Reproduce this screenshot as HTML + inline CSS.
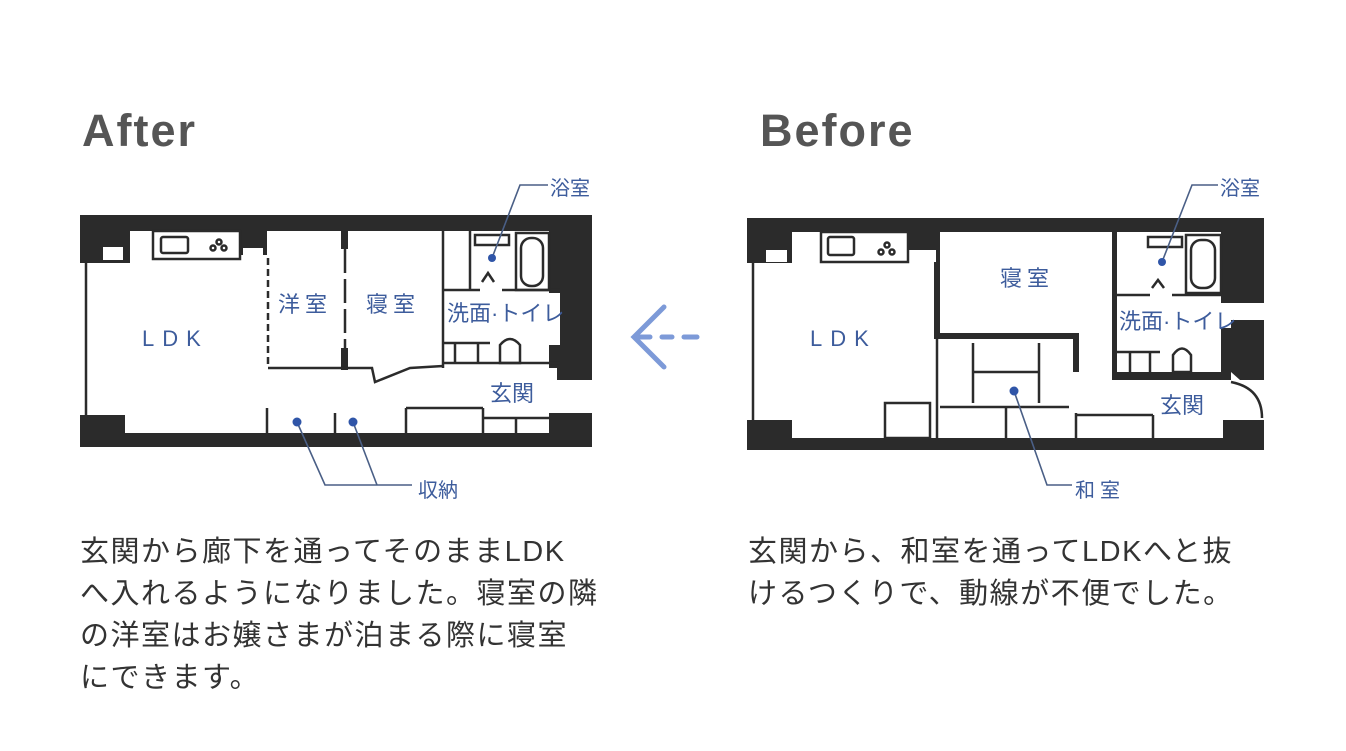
<!DOCTYPE html>
<html><head><meta charset="utf-8"><style>
body{margin:0;background:#fff;width:1346px;height:751px;overflow:hidden;position:relative;font-family:"Liberation Sans","Noto Sans CJK JP",sans-serif}
.t{position:absolute;font-weight:bold;color:#555;font-size:45px;letter-spacing:2px}
.p{position:absolute;font-size:29px;line-height:42px;color:#333;letter-spacing:1.5px;white-space:nowrap}
svg{position:absolute;left:0;top:0}
text{font-family:"Liberation Sans","Noto Sans CJK JP",sans-serif;fill:#3d5c9c}
</style></head><body>
<div class="t" style="left:82px;top:105px">After</div>
<div class="t" style="left:760px;top:105px">Before</div>
<div class="p" style="left:80px;top:531px">玄関から廊下を通ってそのままLDK<br>へ入れるようになりました。寝室の隣<br>の洋室はお嬢さまが泊まる際に寝室<br>にできます。</div>
<div class="p" style="left:748px;top:531px">玄関から、和室を通ってLDKへと抜<br>けるつくりで、動線が不便でした。</div>
<svg width="1346" height="751" viewBox="0 0 1346 751">
<g fill="#2b2b2b" stroke="none">
<rect x="80" y="215" width="512" height="16"/>
<rect x="80" y="215" width="50" height="48"/>
<rect x="240" y="215" width="27" height="40"/>
<rect x="549" y="215" width="43" height="78"/>
<rect x="560" y="293" width="32" height="60"/>
<polygon points="549,345 560,345 560,330 592,330 592,380 557,380 557,368 549,368"/>
<rect x="80" y="433" width="512" height="14"/>
<rect x="80" y="415" width="45" height="32"/>
<rect x="549" y="413" width="43" height="34"/>
<rect x="341" y="231" width="7" height="18"/>
<rect x="341" y="348" width="7" height="22"/>
<rect x="747" y="218" width="517" height="14"/>
<rect x="747" y="218" width="45" height="45"/>
<rect x="908" y="218" width="31" height="32"/>
<rect x="1221" y="218" width="43" height="85"/>
<polygon points="1221,328 1231,328 1231,320 1264,320 1264,380 1240,380 1231,372 1221,372"/>
<rect x="747" y="438" width="517" height="12"/>
<rect x="747" y="420" width="45" height="30"/>
<rect x="1223" y="420" width="41" height="30"/>
<rect x="934" y="232" width="6" height="105"/>
<rect x="934" y="333" width="145" height="6"/>
<rect x="1073" y="333" width="6" height="39"/>
<rect x="1112" y="372" width="119" height="8"/>
<rect x="1112" y="232" width="5" height="148"/>
</g>
<g fill="#fff"><rect x="103" y="247" width="20" height="13"/><rect x="243" y="248" width="20" height="11"/>
<rect x="766" y="250" width="21" height="12"/><rect x="911" y="250" width="25" height="12"/></g>
<g fill="none" stroke="#2b2b2b" stroke-width="2.5">
<line x1="86" y1="262" x2="86" y2="418"/>
<rect x="153" y="231" width="87" height="28"/><rect x="161" y="237" width="27" height="16" rx="2"/>
<circle cx="213" cy="248" r="2.5"/><circle cx="219" cy="242" r="2.5"/><circle cx="224" cy="248" r="2.5"/>
<line x1="268" y1="258" x2="268" y2="368" stroke-dasharray="7,4"/>
<line x1="345" y1="249" x2="345" y2="348" stroke-dasharray="24,6"/>
<polyline points="268,368 345,368 372,368 375,382 410,368 443,366"/>
<line x1="443" y1="231" x2="443" y2="368"/>
<line x1="470" y1="231" x2="470" y2="290"/>
<line x1="443" y1="290" x2="480" y2="290"/><line x1="502" y1="290" x2="560" y2="290"/>
<rect x="516" y="233" width="33" height="57"/><rect x="521" y="238" width="22" height="48" rx="10"/>
<rect x="475" y="235" width="34" height="10"/>
<polyline points="482,282 488,273 494,282"/>
<line x1="443" y1="343" x2="490" y2="343"/><line x1="455" y1="343" x2="455" y2="363"/><line x1="478" y1="343" x2="478" y2="363"/>
<path d="M500,363 V345 Q510,333 520,345 V363 Z"/>
<line x1="443" y1="363" x2="560" y2="363"/>
<line x1="267" y1="408" x2="267" y2="433"/><line x1="335" y1="413" x2="335" y2="433"/><line x1="406" y1="408" x2="406" y2="433"/>
<line x1="406" y1="408" x2="483" y2="408"/><line x1="483" y1="408" x2="483" y2="433"/>
<line x1="483" y1="418" x2="549" y2="418"/><line x1="516" y1="418" x2="516" y2="433"/>
<line x1="753" y1="262" x2="753" y2="420"/>
<rect x="821" y="232" width="87" height="30"/><rect x="828" y="237" width="26" height="18" rx="2"/>
<circle cx="881" cy="252" r="2.5"/><circle cx="887" cy="245" r="2.5"/><circle cx="892" cy="252" r="2.5"/>
<line x1="937" y1="337" x2="937" y2="438"/>
<line x1="973" y1="343" x2="973" y2="403"/><line x1="1039" y1="343" x2="1039" y2="403"/><line x1="973" y1="372" x2="1039" y2="372"/>
<line x1="940" y1="407" x2="1069" y2="407"/><line x1="1006" y1="407" x2="1006" y2="438"/>
<rect x="885" y="403" width="45" height="35"/>
<line x1="1076" y1="413" x2="1076" y2="438"/><line x1="1076" y1="415" x2="1153" y2="415"/><line x1="1153" y1="415" x2="1153" y2="438"/>
<rect x="1186" y="235" width="35" height="58"/><rect x="1191" y="240" width="24" height="48" rx="10"/>
<rect x="1148" y="237" width="34" height="10"/>
<polyline points="1152,288 1158,280 1164,288"/>
<line x1="1117" y1="295" x2="1150" y2="295"/><line x1="1172" y1="295" x2="1221" y2="295"/>
<line x1="1117" y1="352" x2="1160" y2="352"/><line x1="1130" y1="352" x2="1130" y2="372"/><line x1="1150" y1="352" x2="1150" y2="372"/>
<path d="M1173,372 V355 Q1182,342 1191,355 V372 Z"/>
<path d="M1231,382 Q1262,388 1262,418"/>
</g>
<g fill="none" stroke="#4a5f86" stroke-width="1.6">
<polyline points="492,258 520,185 548,185"/>
<polyline points="297,422 325,485 412,485"/><polyline points="353,422 377,485"/>
<polyline points="1162,262 1192,185 1218,185"/>
<polyline points="1014,391 1047,485 1072,485"/>
</g>
<g fill="#2f55a8"><circle cx="492" cy="258" r="4"/><circle cx="297" cy="422" r="4.5"/><circle cx="353" cy="422" r="4.5"/>
<circle cx="1162" cy="262" r="4"/><circle cx="1014" cy="391" r="4.5"/></g>
<g stroke="#7d9ad8" stroke-width="5" fill="none" stroke-linecap="round">
<polyline points="664,307 634,337 664,367"/>
<line x1="640" y1="337" x2="650" y2="337"/><line x1="662" y1="337" x2="672" y2="337"/><line x1="684" y1="337" x2="697" y2="337"/>
</g>
<g font-size="22">
<text x="142" y="346" letter-spacing="8">LDK</text>
<text x="278" y="312" letter-spacing="5">洋室</text>
<text x="366" y="312" letter-spacing="5">寝室</text>
<text x="447" y="321" font-size="22">洗面·トイレ</text>
<text x="490" y="401">玄関</text>
<text x="550" y="195" font-size="20">浴室</text>
<text x="418" y="497" font-size="20">収納</text>
<text x="810" y="346" letter-spacing="8">LDK</text>
<text x="1000" y="286" letter-spacing="5">寝室</text>
<text x="1119" y="329" font-size="22">洗面·トイレ</text>
<text x="1160" y="413">玄関</text>
<text x="1220" y="195" font-size="20">浴室</text>
<text x="1075" y="497" font-size="20" letter-spacing="5">和室</text>
</g>
</svg>
</body></html>
